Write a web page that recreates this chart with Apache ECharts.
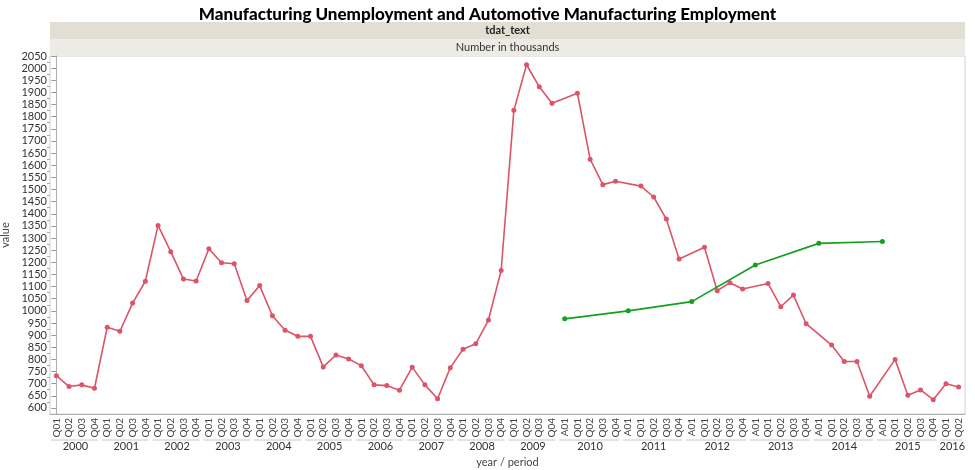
<!DOCTYPE html>
<html><head><meta charset="utf-8">
<script src="https://cdn.jsdelivr.net/npm/echarts@6/dist/echarts.min.js"></script>
<style>html,body{margin:0;padding:0;background:#fff}#c{width:975px;height:470px}</style>
</head><body><div id="c"></div>
<script>
// ---- data ----
const years = [2000,2001,2002,2003,2004,2005,2006,2007,2008,2009,2010,2011,2012,2013,2014,2015,2016];
const periodsByYear = [
  ['Q01','Q02','Q03','Q04'], ['Q01','Q02','Q03','Q04'], ['Q01','Q02','Q03','Q04'],
  ['Q01','Q02','Q03','Q04'], ['Q01','Q02','Q03','Q04'], ['Q01','Q02','Q03','Q04'],
  ['Q01','Q02','Q03','Q04'], ['Q01','Q02','Q03','Q04'], ['Q01','Q02','Q03','Q04'],
  ['Q01','Q02','Q03','Q04'],
  ['A01','Q01','Q02','Q03','Q04'], ['A01','Q01','Q02','Q03','Q04'], ['A01','Q01','Q02','Q03','Q04'],
  ['A01','Q01','Q02','Q03','Q04'], ['A01','Q01','Q02','Q03','Q04'], ['A01','Q01','Q02','Q03','Q04'],
  ['Q01','Q02']
];
// Manufacturing unemployment (null at annual A01 rows)
const unemployment = [
  733, 688, 695, 681,
  932, 916, 1032, 1122,
  1352, 1244, 1131, 1123,
  1256, 1198, 1194, 1043,
  1104, 980, 920, 895,
  895, 769, 818, 802,
  774, 695, 692, 673,
  768, 695, 638, 766,
  842, 864, 962, 1166,
  1826, 2014, 1923, 1855,
  null, 1897, 1625, 1520, 1534,
  null, 1514, 1469, 1378, 1214,
  null, 1262, 1083, 1116, 1090,
  null, 1113, 1017, 1065, 947,
  null, 859, 791, 791, 648,
  null, 800, 652, 674, 634,
  700, 686
];
// Automotive manufacturing employment (annual A01 rows only)
const autoEmployment = [
  null, null, null, null,  null, null, null, null,  null, null, null, null,
  null, null, null, null,  null, null, null, null,  null, null, null, null,
  null, null, null, null,  null, null, null, null,  null, null, null, null,
  null, null, null, null,
  967, null, null, null, null,
  1000, null, null, null, null,
  1038, null, null, null, null,
  1189, null, null, null, null,
  1278, null, null, null, null,
  1286, null, null, null, null,
  null, null
];
const yTicks = [600,650,700,750,800,850,900,950,1000,1050,1100,1150,1200,1250,1300,1350,1400,1450,1500,1550,1600,1650,1700,1750,1800,1850,1900,1950,2000,2050];
const titleText = 'Manufacturing Unemployment and Automotive Manufacturing Employment';
const headerText = 'tdat_text';
const subHeaderText = 'Number in thousands';

// ---- build ----
const categories = [];
const groups = [];
years.forEach((y, i) => {
  const start = categories.length;
  periodsByYear[i].forEach(p => categories.push(p));
  groups.push({ year: String(y), start: start, end: categories.length - 1, center: start + (periodsByYear[i].length - 1) / 2 });
});
const yMinor = yTicks.slice(0, -1).map((v, i) => (v + yTicks[i + 1]) / 2);

const FONT = 'Lato';
const G = { left: 50, right: 10, top: 56, bottom: 56 };
const W = 975, H = 470;

const chart = echarts.init(document.getElementById('c'), null, { renderer: 'canvas' });
const option = {
  animation: false,
  textStyle: { fontFamily: FONT },
  title: {
    text: titleText, left: 'center', top: 1,
    textStyle: { fontFamily: FONT, fontSize: 17, fontWeight: 900, color: '#000' }
  },
  grid: { left: G.left, right: G.right, top: G.top, bottom: G.bottom, outerBoundsMode: 'none', containLabel: false, show: true, borderColor: '#d0d0d0', borderWidth: 1, backgroundColor: '#fff' },
  xAxis: [
    {
      type: 'category', data: categories, boundaryGap: true, position: 'bottom',
      axisLine: { lineStyle: { color: '#b0b0b0' } },
      axisTick: { show: false },
      axisLabel: { rotate: 90, interval: 0, fontSize: 10, color: '#444', margin: 4, fontFamily: FONT },
      splitLine: { show: false }
    },
    {
      type: 'value', min: -0.5, max: categories.length - 0.5, position: 'bottom', offset: 24,
      axisLine: { show: false }, axisTick: { show: false }, splitLine: { show: false },
      axisLabel: {
        customValues: groups.map(g => g.center), fontSize: 11, color: '#333', margin: 3, fontFamily: FONT,
        formatter: v => { const g = groups.find(gg => Math.abs(gg.center - v) < 1e-6); return g ? g.year : ''; }
      },
      name: 'year / period', nameLocation: 'middle', nameGap: 19,
      nameTextStyle: { fontSize: 11, color: '#444', fontFamily: FONT }
    }
  ],
  yAxis: [
    {
      type: 'value', min: 575, max: 2050, position: 'left',
      axisLine: { show: true, lineStyle: { color: '#b0b0b0' } },
      axisTick: { show: true, customValues: yTicks, length: 5, lineStyle: { color: '#999' } },
      axisLabel: { customValues: yTicks, fontSize: 11, color: '#333', margin: 3, fontFamily: FONT, formatter: v => String(v) },
      splitLine: { show: false },
      name: 'value', nameLocation: 'middle', nameGap: 38,
      nameTextStyle: { fontSize: 11, color: '#444', fontFamily: FONT }
    },
    {
      type: 'value', min: 575, max: 2050, position: 'left',
      axisLine: { show: false },
      axisTick: { show: true, customValues: yMinor, length: 3, lineStyle: { color: '#aaa' } },
      axisLabel: { show: false }, splitLine: { show: false }
    }
  ],
  series: [
    {
      name: 'Manufacturing unemployment', type: 'line', data: unemployment, connectNulls: true,
      xAxisIndex: 0, yAxisIndex: 0,
      symbol: 'circle', symbolSize: 5, itemStyle: { color: '#dd5468' },
      lineStyle: { color: '#dd5468', width: 1.6 }
    },
    {
      name: 'Automotive manufacturing employment', type: 'line', data: autoEmployment, connectNulls: true,
      xAxisIndex: 0, yAxisIndex: 0,
      symbol: 'circle', symbolSize: 5, itemStyle: { color: '#13a01f' },
      lineStyle: { color: '#13a01f', width: 1.6 }
    }
  ]
};
chart.setOption(option);

// header bands and year group brackets (positions derived from the axis scale)
const plotW = W - G.left - G.right;
const bandW = plotW / categories.length;
const baseY = H - G.bottom;
const gfx = [
  { type: 'rect', shape: { x: G.left, y: 22, width: plotW, height: 17 }, style: { fill: '#e1dfd4' } },
  { type: 'rect', shape: { x: G.left, y: 39, width: plotW, height: 17 }, style: { fill: '#ecebe5' } },
  { type: 'text', x: G.left + plotW / 2, y: 30.5, style: { text: headerText, align: 'center', verticalAlign: 'middle', font: 'bold 11px ' + FONT, fill: '#222' } },
  { type: 'text', x: G.left + plotW / 2, y: 47.5, style: { text: subHeaderText, align: 'center', verticalAlign: 'middle', font: '11px ' + FONT, fill: '#333' } }
];
groups.forEach(g => {
  const x0 = chart.convertToPixel({ xAxisIndex: 0 }, g.start) - bandW / 2 + 1;
  const x1 = chart.convertToPixel({ xAxisIndex: 0 }, g.end) + bandW / 2 - 3;
  gfx.push({ type: 'line', shape: { x1: x0, y1: baseY + 26, x2: x1, y2: baseY + 26 }, style: { stroke: '#c8c8c8', lineWidth: 1 } });
});
chart.setOption({ graphic: gfx });
</script>
</body></html>
